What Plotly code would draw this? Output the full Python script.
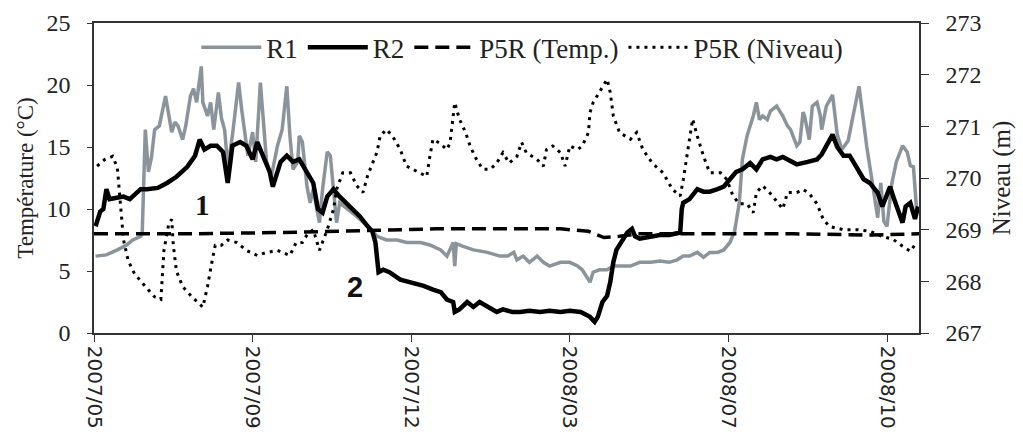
import pandas as pd
import plotly.graph_objects as go

START = pd.Timestamp("2007-05-25")

# ---- data (day offsets from START, values) ----
r1_day = [1, 8, 15, 21, 25, 30, 31, 33, 35, 37, 39, 42, 46, 48, 50, 52, 54, 57, 59, 62, 64, 66, 69, 70,
          73, 75, 77, 80, 82, 84, 86, 89, 93, 95, 97, 99, 102, 104, 107, 109, 111, 114, 118, 121, 124,
          126, 128, 131, 132, 134, 137, 139, 141, 143, 145, 147, 150, 152, 154, 156, 158, 163, 169, 176,
          182, 188, 195, 201, 210, 216, 223, 227, 231, 232, 233, 237, 244, 253, 261, 266, 270, 272, 276,
          280, 285, 289, 293, 300, 306, 311, 314, 319, 321, 325, 330, 334, 338, 345, 351, 358, 364, 370,
          375, 379, 383, 388, 392, 396, 401, 405, 409, 412, 415, 417, 420, 424, 426, 428, 430, 433, 435,
          439, 443, 446, 448, 452, 454, 456, 457, 460, 462, 465, 467, 468, 471, 475, 478, 481, 485, 488,
          492, 495, 497, 500, 504, 506, 508, 510, 513, 516, 520, 523, 525, 527, 529]
r1_temp = [6.2, 6.3, 6.7, 7.1, 7.5, 7.8, 8.0, 16.4, 13.0, 14.2, 16.4, 16.7, 19.1, 17.5, 16.2, 17.0, 16.7,
           15.6, 16.7, 19.1, 19.7, 18.6, 21.5, 18.6, 17.5, 18.6, 16.4, 19.4, 17.3, 16.4, 13.5, 15.9, 20.2,
           18.0, 16.2, 14.3, 16.2, 13.8, 20.2, 16.7, 13.8, 12.6, 15.1, 16.4, 19.9, 15.9, 13.2, 13.8, 15.9,
           15.4, 11.8, 10.5, 11.6, 10.2, 8.9, 11.6, 14.6, 14.3, 11.6, 8.9, 10.5, 10.0, 9.4, 8.6, 7.8, 7.5,
           7.5, 7.3, 7.3, 7.1, 6.7, 6.2, 7.3, 5.4, 7.2, 7.0, 6.7, 6.5, 6.2, 6.2, 6.5, 5.9, 6.2, 5.7, 6.2,
           5.7, 5.4, 5.7, 5.7, 5.4, 5.1, 4.1, 4.9, 5.1, 5.1, 5.4, 5.4, 5.4, 5.7, 5.7, 5.8, 5.7, 5.9, 6.2,
           6.2, 6.5, 6.1, 6.5, 6.5, 6.7, 7.3, 8.2, 10.5, 14.0, 15.9, 17.5, 18.6, 17.2, 17.5, 17.2, 17.9,
           18.3, 17.5, 16.7, 16.4, 15.1, 15.4, 17.8, 17.5, 15.6, 18.3, 18.6, 17.6, 16.4, 18.3, 19.2, 16.0,
           14.8, 15.5, 17.5, 19.9, 17.0, 15.0, 12.6, 9.3, 12.1, 9.0, 8.6, 12.0, 13.8, 15.1, 14.6, 13.5,
           13.4, 10.0]

r2_day = [1, 4, 6, 8, 10, 15, 19, 23, 30, 34, 41, 47, 53, 60, 65, 68, 71, 75, 79, 83, 86, 89, 94, 98,
          102, 105, 109, 113, 115, 120, 124, 128, 132, 137, 141, 144, 147, 150, 154, 158, 165, 171, 176,
          179, 181, 182, 183, 186, 190, 197, 203, 212, 218, 223, 227, 231, 232, 235, 240, 244, 248, 253,
          259, 263, 269, 274, 280, 287, 293, 300, 306, 313, 319, 322, 324, 327, 330, 332, 334, 336, 340,
          343, 346, 348, 351, 358, 364, 370, 377, 378, 379, 383, 388, 392, 396, 401, 405, 409, 413, 417,
          422, 426, 430, 435, 439, 443, 448, 452, 459, 465, 468, 473, 475, 478, 482, 486, 491, 495, 499,
          504, 507, 510, 512, 514, 516, 520, 522, 525, 528, 530]
r2_temp = [8.6, 9.8, 10.0, 11.6, 10.8, 10.9, 11.0, 10.8, 11.6, 11.6, 11.7, 12.1, 12.6, 13.4, 14.3, 15.6,
           14.8, 15.1, 15.1, 14.6, 12.1, 15.1, 15.4, 15.1, 14.0, 15.4, 14.3, 13.0, 11.8, 13.8, 14.3, 13.8,
           14.0, 13.0, 12.1, 10.0, 9.7, 11.0, 11.6, 11.0, 10.2, 9.4, 8.6, 8.2, 7.3, 5.7, 4.9, 5.1, 4.9,
           4.3, 4.1, 3.8, 3.5, 3.3, 2.7, 2.5, 1.7, 1.9, 2.5, 2.1, 2.5, 2.1, 1.7, 1.9, 1.7, 1.7, 1.8, 1.7,
           1.8, 1.7, 1.8, 1.7, 1.3, 0.9, 1.3, 2.5, 3.0, 4.1, 5.7, 6.7, 7.6, 8.1, 8.4, 7.8, 7.6, 7.8, 7.9,
           7.9, 8.1, 10.0, 10.5, 10.8, 11.6, 11.4, 11.4, 11.6, 11.8, 12.4, 13.0, 13.2, 13.7, 13.2, 14.0,
           14.2, 14.0, 14.2, 13.9, 13.6, 13.8, 14.0, 14.4, 15.6, 16.0, 15.0, 14.3, 14.3, 13.2, 12.4, 12.1,
           11.3, 10.2, 11.3, 11.8, 11.0, 10.2, 8.9, 10.2, 10.5, 9.2, 10.2]

p5t_day = [0, 60, 120, 180, 220, 260, 300, 318, 328, 338, 350, 400, 450, 500, 531]
p5t_temp = [8.0, 8.0, 8.1, 8.3, 8.4, 8.4, 8.4, 8.2, 7.7, 7.8, 8.0, 8.0, 8.0, 7.9, 8.0]

p5n_day = [2, 7, 12, 15, 17, 19, 22, 26, 33, 39, 43, 45, 48, 50, 51, 53, 57, 63, 70, 73, 76, 78, 82, 86,
           92, 98, 105, 110, 118, 126, 130, 134, 137, 141, 145, 150, 154, 156, 160, 165, 169, 173, 176,
           179, 182, 184, 188, 192, 197, 201, 205, 210, 214, 216, 218, 222, 227, 229, 231, 232, 235, 239,
           242, 246, 250, 255, 259, 263, 267, 272, 275, 278, 285, 289, 291, 295, 300, 303, 306, 311, 314,
           318, 319, 321, 325, 330, 332, 334, 338, 345, 349, 353, 359, 366, 372, 377, 379, 381, 383, 385,
           388, 392, 396, 403, 407, 411, 415, 420, 424, 426, 430, 435, 439, 443, 446, 452, 456, 460, 465,
           469, 473, 482, 491, 499, 507, 514, 520, 525, 529]
p5n_level = [270.23, 270.36, 270.42, 270.2, 269.5, 268.8, 268.4, 268.15, 267.9, 267.7, 267.65, 268.6,
             269.1, 269.2, 268.7, 268.2, 267.9, 267.7, 267.5, 267.9, 268.4, 268.7, 268.7, 268.8, 268.75,
             268.6, 268.5, 268.55, 268.6, 268.5, 268.75, 268.75, 268.9, 269.0, 268.6, 269.0, 269.39,
             269.78, 270.1, 270.1, 269.85, 269.72, 270.05, 270.27, 270.5, 270.81, 270.94, 270.81, 270.55,
             270.23, 270.17, 270.1, 270.03, 270.42, 270.75, 270.68, 270.55, 270.68, 271.14, 271.46,
             271.14, 270.88, 270.61, 270.36, 270.17, 270.17, 270.29, 270.49, 270.29, 270.42, 270.69,
             270.49, 270.36, 270.23, 270.55, 270.62, 270.49, 270.23, 270.62, 270.55, 270.62, 270.88,
             271.27, 271.46, 271.66, 271.91, 271.66, 271.2, 270.88, 270.75, 270.88, 270.55, 270.29, 270.1,
             269.78, 269.65, 269.97, 270.36, 270.81, 271.14, 270.81, 270.42, 270.1, 270.1, 269.97, 269.65,
             269.5, 269.5, 269.33, 269.72, 269.85, 269.7, 269.55, 269.4, 269.72, 269.72, 269.78, 269.7,
             269.5, 269.2, 269.06, 269.0, 269.0, 268.97, 268.87, 268.81, 268.68, 268.58, 268.75]

tick_dates = ["2007-05-25", "2007-09-04", "2007-12-15", "2008-03-26", "2008-07-06", "2008-10-16"]
tick_labels = ["2007/05", "2007/09", "2007/12", "2008/03", "2008/07", "2008/10"]
x_range = ["2007-05-25", "2008-11-05 14:00"]

label_1 = (70, 10.3, "1")
label_2 = (168, 3.7, "2")


def to_dates(days):
    return START + pd.to_timedelta(days, unit="D")


SERIF = "Liberation Serif"

fig = go.Figure()
fig.add_trace(go.Scatter(x=to_dates(r1_day), y=r1_temp, name="R1", mode="lines",
                         line=dict(color="#8c949b", width=3.5)))
fig.add_trace(go.Scatter(x=to_dates(r2_day), y=r2_temp, name="R2", mode="lines",
                         line=dict(color="#000000", width=4.5)))
fig.add_trace(go.Scatter(x=to_dates(p5t_day), y=p5t_temp, name="P5R (Temp.)", mode="lines",
                         line=dict(color="#000000", width=3.5, dash="14px,7px")))
fig.add_trace(go.Scatter(x=to_dates(p5n_day), y=p5n_level, name="P5R (Niveau)", mode="lines",
                         yaxis="y2", line=dict(color="#000000", width=3, dash="3px,5px")))

for (d, v, txt), fam in [(label_1, "Liberation Serif"), (label_2, "Liberation Sans")]:
    fig.add_annotation(x=to_dates([d])[0], y=v, xref="x", yref="y", text="<b>%s</b>" % txt,
                       showarrow=False, font=dict(family=fam, size=29, color="#111"))

axis_common = dict(showline=True, linecolor="#333", linewidth=1.5, showgrid=False, zeroline=False,
                   ticks="outside", tickcolor="#333", automargin=False)

fig.update_layout(
    width=1023, height=438,
    margin=dict(l=94, r=104, t=23, b=105, autoexpand=False),
    plot_bgcolor="white", paper_bgcolor="white",
    legend=dict(orientation="h", x=0.124, y=0.92, xanchor="left", yanchor="middle",
                font=dict(family=SERIF, size=27, color="#222"), bgcolor="rgba(0,0,0,0)",
                itemwidth=60, tracegroupgap=0),
    xaxis=dict(type="date", range=x_range, tickvals=tick_dates, ticktext=tick_labels,
               tickangle=90, ticklen=7, mirror=True,
               tickfont=dict(family="DejaVu Sans", size=20, color="#222"), **axis_common),
    yaxis=dict(range=[0, 25], tickvals=[0, 5, 10, 15, 20, 25], ticklen=5,
               tickfont=dict(family=SERIF, size=24, color="#222"), ticklabelstandoff=12,
               title=dict(text="Température (°C)", font=dict(family=SERIF, size=23, color="#222"),
                          standoff=6), **axis_common),
    yaxis2=dict(range=[267, 273], tickvals=[267, 268, 269, 270, 271, 272, 273], overlaying="y",
                side="right", ticklen=8, ticklabelstandoff=12,
                tickfont=dict(family=SERIF, size=24, color="#222"),
                title=dict(text="Niveau (m)", font=dict(family=SERIF, size=25, color="#222"),
                           standoff=12), **axis_common),
)

fig.write_html("out.html", config={"displayModeBar": False},
               post_script="document.body.style.margin='0px';")
